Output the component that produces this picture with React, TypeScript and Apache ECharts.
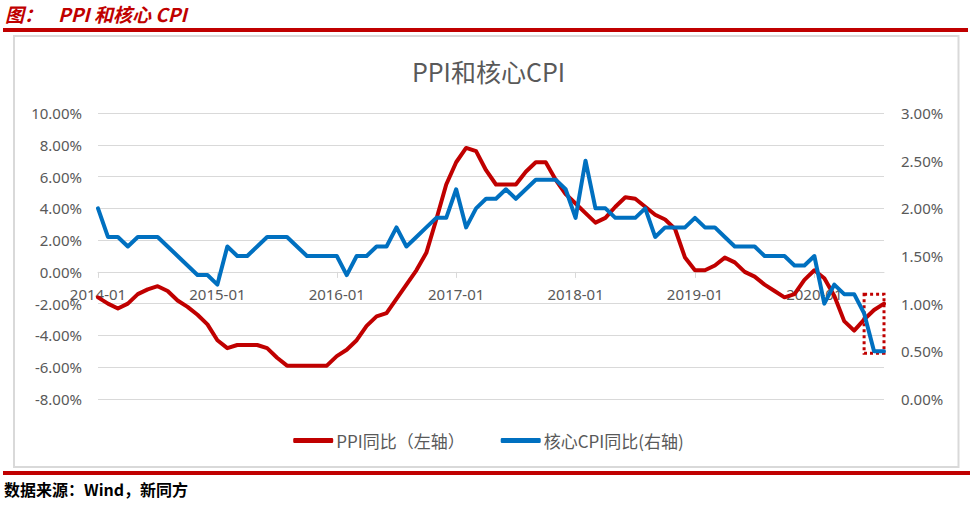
import React, { useEffect, useRef } from "react";
import * as echarts from "echarts";

// Month labels 2014-01 .. 2020-08
const firstYear = 2014;
const lastYear = 2020;
const lastMonth = 8;
const categories: string[] = [];
for (let y = firstYear; y <= lastYear; y++) {
  for (let m = 1; m <= 12; m++) {
    if (y === lastYear && m > lastMonth) break;
    categories.push(`${y}-${m < 10 ? "0" + m : m}`);
  }
}

// PPI YoY (%), left axis
const ppi2014 = [-1.6, -2.0, -2.3, -2.0, -1.4, -1.1, -0.9, -1.2, -1.8, -2.2, -2.7, -3.3];
const ppi2015 = [-4.3, -4.8, -4.6, -4.6, -4.6, -4.8, -5.4, -5.9, -5.9, -5.9, -5.9, -5.9];
const ppi2016 = [-5.3, -4.9, -4.3, -3.4, -2.8, -2.6, -1.7, -0.8, 0.1, 1.2, 3.3, 5.5];
const ppi2017 = [6.9, 7.8, 7.6, 6.4, 5.5, 5.5, 5.5, 6.3, 6.9, 6.9, 5.8, 4.9];
const ppi2018 = [4.3, 3.7, 3.1, 3.4, 4.1, 4.7, 4.6, 4.1, 3.6, 3.3, 2.7, 0.9];
const ppi2019 = [0.1, 0.1, 0.4, 0.9, 0.6, 0.0, -0.3, -0.8, -1.2, -1.6, -1.4, -0.5];
const ppi2020 = [0.1, -0.4, -1.5, -3.1, -3.7, -3.0, -2.4, -2.0];

// Core CPI YoY (%), right axis
const core2014 = [2.0, 1.7, 1.7, 1.6, 1.7, 1.7, 1.7, 1.6, 1.5, 1.4, 1.3, 1.3];
const core2015 = [1.2, 1.6, 1.5, 1.5, 1.6, 1.7, 1.7, 1.7, 1.6, 1.5, 1.5, 1.5];
const core2016 = [1.5, 1.3, 1.5, 1.5, 1.6, 1.6, 1.8, 1.6, 1.7, 1.8, 1.9, 1.9];
const core2017 = [2.2, 1.8, 2.0, 2.1, 2.1, 2.2, 2.1, 2.2, 2.3, 2.3, 2.3, 2.2];
const core2018 = [1.9, 2.5, 2.0, 2.0, 1.9, 1.9, 1.9, 2.0, 1.7, 1.8, 1.8, 1.8];
const core2019 = [1.9, 1.8, 1.8, 1.7, 1.6, 1.6, 1.6, 1.5, 1.5, 1.5, 1.4, 1.4];
const core2020 = [1.5, 1.0, 1.2, 1.1, 1.1, 0.9, 0.5, 0.5];

const ppiValues = [...ppi2014, ...ppi2015, ...ppi2016, ...ppi2017, ...ppi2018, ...ppi2019, ...ppi2020];
const coreValues = [...core2014, ...core2015, ...core2016, ...core2017, ...core2018, ...core2019, ...core2020];

// Highlighted region (dotted box)
const boxStart = "2020-06";
const boxEnd = "2020-08";
const boxTop = 1.1;
const boxBottom = 0.48;

const leftTicks = { min: -8, max: 10, interval: 2 };
const rightTicks = { min: 0, max: 3, interval: 0.5 };

const RED = "#c00000";
const BLUE = "#0070c0";
const GREY_TEXT = "#595959";
const GRID = "#d9d9d9";
const FONT = "'Noto Sans', 'Noto Sans CJK SC', sans-serif";
const CJK = "'Noto Sans CJK SC', sans-serif";

// grid geometry
const gridTop = 113;
const gridBottom = 106;
const plotHeight = 505 - gridTop - gridBottom;
// the category axis crosses the left value axis at 0
const zeroOffset = -plotHeight * ((0 - leftTicks.min) / (leftTicks.max - leftTicks.min));

export default function App() {
  const ref = useRef<HTMLDivElement>(null);
  useEffect(() => {
    if (!ref.current) return;
    const chart = echarts.init(ref.current, undefined, { renderer: "svg" });
    chart.setOption({
      animation: false,
      backgroundColor: "#ffffff",
      title: {
        text: "PPI和核心CPI",
        left: "center",
        top: 53,
        textStyle: { color: GREY_TEXT, fontSize: 25, fontWeight: "normal", fontFamily: CJK },
      },
      graphic: [
        {
          type: "text",
          left: 5,
          top: 4,
          style: { text: "图：", fill: RED, font: `italic bold 19px ${CJK}` },
        },
        {
          type: "text",
          left: 58,
          top: 4,
          style: { text: "PPI 和核心 CPI", fill: RED, font: `italic bold 19px ${CJK}` },
        },
        { type: "rect", shape: { x: 3, y: 28, width: 965, height: 4 }, style: { fill: RED } },
        {
          type: "rect",
          shape: { x: 14, y: 36, width: 944.5, height: 431 },
          style: { fill: "none", stroke: GRID, lineWidth: 2 },
          z: -1,
        },
        { type: "rect", shape: { x: 3, y: 471, width: 967, height: 4 }, style: { fill: RED } },
        {
          type: "text",
          left: 4,
          top: 481,
          style: { text: "数据来源：Wind，新同方", fill: "#000000", font: `bold 16px ${CJK}` },
        },
      ],
      legend: {
        top: 427,
        left: "center",
        itemGap: 36,
        itemWidth: 40,
        itemHeight: 5,
        icon: "roundRect",
        textStyle: { color: GREY_TEXT, fontSize: 17, fontFamily: CJK, padding: [0, 0, 0, -2] },
        data: ["PPI同比（左轴）", "核心CPI同比(右轴)"],
      },
      grid: { left: 98, right: 93, top: gridTop, bottom: gridBottom, containLabel: false },
      xAxis: {
        type: "category",
        data: categories,
        boundaryGap: false,
        position: "bottom",
        offset: zeroOffset,
        axisLine: { onZero: false, lineStyle: { color: GRID, width: 1 } },
        axisTick: { show: true, interval: 11, length: 6, lineStyle: { color: GRID } },
        axisLabel: {
          interval: 11,
          color: GREY_TEXT,
          fontSize: 15,
          fontFamily: FONT,
          margin: 15,
        },
        splitLine: { show: false },
      },
      yAxis: [
        {
          type: "value",
          min: leftTicks.min,
          max: leftTicks.max,
          interval: leftTicks.interval,
          axisLine: { show: false },
          axisTick: { show: false },
          splitLine: { show: true, lineStyle: { color: GRID, width: 1 } },
          axisLabel: {
            color: GREY_TEXT,
            fontSize: 15,
            fontFamily: FONT,
            margin: 16,
            formatter: (v: number) => v.toFixed(2) + "%",
          },
        },
        {
          type: "value",
          min: rightTicks.min,
          max: rightTicks.max,
          interval: rightTicks.interval,
          axisLine: { show: false },
          axisTick: { show: false },
          splitLine: { show: false },
          axisLabel: {
            color: GREY_TEXT,
            fontSize: 15,
            fontFamily: FONT,
            margin: 17,
            formatter: (v: number) => v.toFixed(2) + "%",
          },
        },
      ],
      series: [
        {
          name: "PPI同比（左轴）",
          type: "line",
          yAxisIndex: 0,
          data: ppiValues,
          showSymbol: false,
          symbol: "none",
          color: RED,
          z: 3,
          lineStyle: { color: RED, width: 4, join: "round", cap: "round" },
        },
        {
          name: "核心CPI同比(右轴)",
          type: "line",
          yAxisIndex: 1,
          data: coreValues,
          showSymbol: false,
          symbol: "none",
          color: BLUE,
          z: 3,
          lineStyle: { color: BLUE, width: 4, join: "round", cap: "round" },
          markArea: {
            silent: true,
            itemStyle: {
              color: "rgba(0,0,0,0)",
              borderColor: RED,
              borderWidth: 3,
              borderType: [3, 3],
            },
            data: [[{ xAxis: boxStart, yAxis: boxTop }, { xAxis: boxEnd, yAxis: boxBottom }]],
          },
        },
      ],
    });
    return () => chart.dispose();
  }, []);
  return (
    <div style={{ position: "fixed", left: 0, top: 0, width: 977, height: 505, background: "#fff" }}>
      <div ref={ref} style={{ width: 977, height: 505 }} />
    </div>
  );
}
